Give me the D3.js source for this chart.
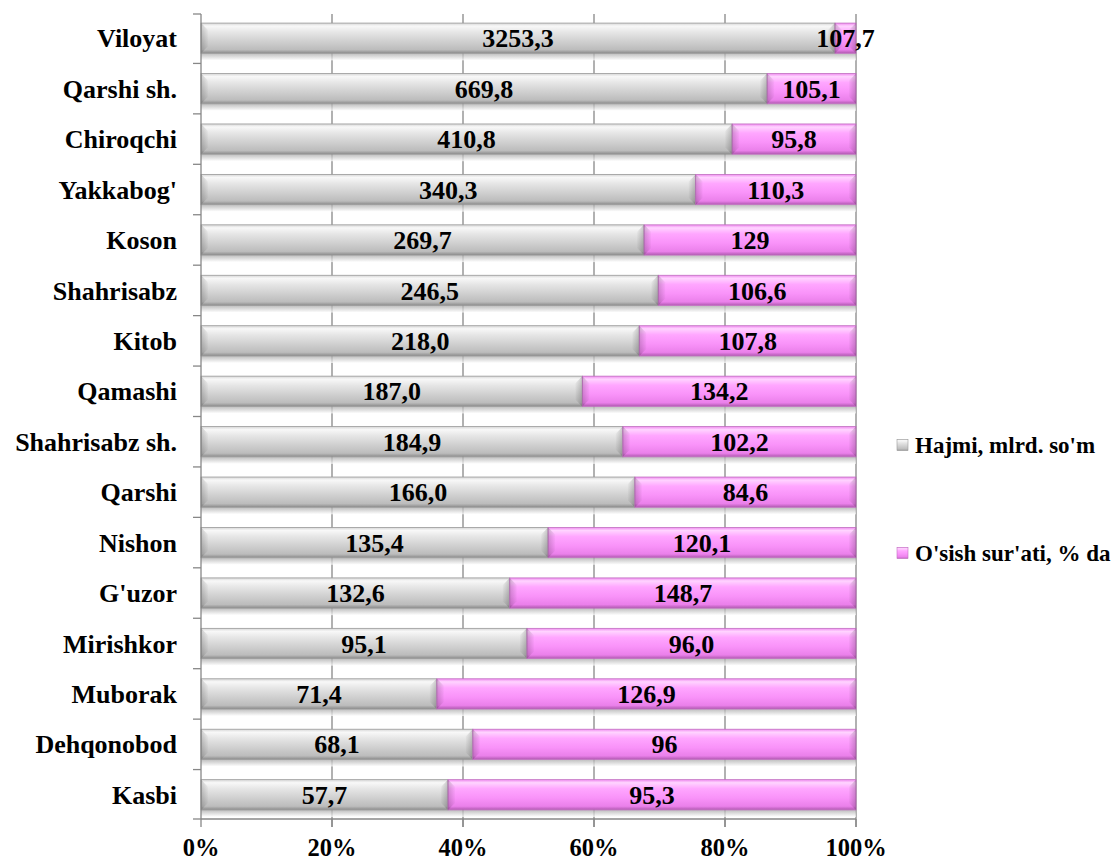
<!DOCTYPE html>
<html>
<head>
<meta charset="utf-8">
<script src="https://cdn.jsdelivr.net/npm/d3@7"></script>
<style>
  body { margin: 0; background: #fff; }
  svg text { font-family: "Liberation Serif", "Times New Roman", serif; font-weight: bold; }
</style>
</head>
<body>
<div id="chart"></div>
<script>
// categories top to bottom
var regions = ["Viloyat", "Qarshi sh.", "Chiroqchi", "Yakkabog'", "Koson", "Shahrisabz",
  "Kitob", "Qamashi", "Shahrisabz sh.", "Qarshi", "Nishon", "G'uzor", "Mirishkor",
  "Muborak", "Dehqonobod", "Kasbi"];
var hajmi = [3253.3, 669.8, 410.8, 340.3, 269.7, 246.5, 218.0, 187.0, 184.9, 166.0,
  135.4, 132.6, 95.1, 71.4, 68.1, 57.7];
var osish = [107.7, 105.1, 95.8, 110.3, 129, 106.6, 107.8, 134.2, 102.2, 84.6,
  120.1, 148.7, 96.0, 126.9, 96, 95.3];
// labels as written on the chart
var hajmiLabels = ["3253,3", "669,8", "410,8", "340,3", "269,7", "246,5", "218,0", "187,0",
  "184,9", "166,0", "135,4", "132,6", "95,1", "71,4", "68,1", "57,7"];
var osishLabels = ["107,7", "105,1", "95,8", "110,3", "129", "106,6", "107,8", "134,2",
  "102,2", "84,6", "120,1", "148,7", "96,0", "126,9", "96", "95,3"];
var seriesNames = ["Hajmi, mlrd. so'm", "O'sish sur'ati, % da"];
var xTicks = [0, 0.2, 0.4, 0.6, 0.8, 1];

var W = 1119, H = 860;
var margin = {left: 201, right: 263, top: 14, bottom: 41};

var svg = d3.select("#chart").append("svg")
  .attr("width", W).attr("height", H);

var defs = svg.append("defs");
function grad(id, stops, horiz) {
  var g = defs.append("linearGradient").attr("id", id)
    .attr("x1", 0).attr("y1", 0).attr("x2", horiz ? 1 : 0).attr("y2", horiz ? 0 : 1);
  stops.forEach(function(s) {
    g.append("stop").attr("offset", s[0]).attr("stop-color", s[1])
      .attr("stop-opacity", s[2] === undefined ? 1 : s[2]);
  });
}
grad("gGray", [[0, "#d6d6d6"], [0.1, "#f8f8f8"], [0.3, "#e6e6e6"], [0.6, "#d0d0d0"], [0.88, "#bcbcbc"], [1, "#8a8a8a"]]);
grad("gPink", [[0, "#f08af0"], [0.1, "#ffd4ff"], [0.3, "#ffa6ff"], [0.6, "#f993f9"], [0.88, "#ea80ea"], [1, "#b058b0"]]);
grad("gShadow", [[0, "#a8a8a8"], [1, "#ffffff"]]);
grad("gBevL", [[0, "#000", 0.18], [1, "#000", 0.02]], true);
grad("gBevR", [[0, "#000", 0.02], [1, "#000", 0.2]], true);

var x = d3.scaleLinear().domain([0, 1]).range([margin.left, W - margin.right]);
var y = d3.scaleBand().domain(regions).range([margin.top, H - margin.bottom])
  .paddingInner(0.4).paddingOuter(0.18);

// grid lines
svg.append("g").selectAll("line").data(xTicks.slice(1)).enter().append("line")
  .attr("x1", function(d) { return x(d); }).attr("x2", function(d) { return x(d); })
  .attr("y1", margin.top).attr("y2", H - margin.bottom + 8)
  .style("stroke", "#878787").style("stroke-width", 1.3);

// stacked shares
var rows = regions.map(function(r, i) {
  var t = hajmi[i] + osish[i];
  return {name: r, a: hajmi[i] / t, b: osish[i] / t, la: hajmiLabels[i], lb: osishLabels[i]};
});

var bars = svg.append("g").selectAll("g").data(rows).enter().append("g");

// soft shadow below bar
bars.append("rect")
  .attr("x", x(0)).attr("width", x(1) - x(0))
  .attr("y", function(d) { return y(d.name) + y.bandwidth(); })
  .attr("height", 7)
  .style("fill", "url(#gShadow)").style("opacity", 0.75);

function segment(sel, x0f, x1f, fill, stroke) {
  sel.append("rect")
    .attr("x", function(d) { return x(x0f(d)); })
    .attr("y", function(d) { return y(d.name); })
    .attr("width", function(d) { return x(x1f(d)) - x(x0f(d)); })
    .attr("height", y.bandwidth())
    .style("fill", fill)
    .style("stroke", stroke).style("stroke-width", 0.8);
  var b = 7;
  // bevel at the left and right ends
  sel.append("path")
    .attr("d", function(d) {
      var a = x(x0f(d)), t = y(d.name), h = y.bandwidth();
      var w = Math.min(b, (x(x1f(d)) - a) / 2);
      return "M" + a + "," + t + "L" + (a + w) + "," + (t + w) + "L" + (a + w) + "," + (t + h - w) + "L" + a + "," + (t + h) + "Z";
    })
    .style("fill", "url(#gBevL)");
  sel.append("path")
    .attr("d", function(d) {
      var e = x(x1f(d)), t = y(d.name), h = y.bandwidth();
      var w = Math.min(b, (e - x(x0f(d))) / 2);
      return "M" + e + "," + t + "L" + (e - w) + "," + (t + w) + "L" + (e - w) + "," + (t + h - w) + "L" + e + "," + (t + h) + "Z";
    })
    .style("fill", "url(#gBevR)");
}
segment(bars, function() { return 0; }, function(d) { return d.a; }, "url(#gGray)", "#9a9a9a");
segment(bars, function(d) { return d.a; }, function() { return 1; }, "url(#gPink)", "#c070c0");

bars.append("text")
  .attr("x", function(d) { return (x(0) + x(d.a)) / 2; })
  .attr("y", function(d) { return y(d.name) + y.bandwidth() / 2; })
  .attr("dy", "0.35em").attr("text-anchor", "middle")
  .style("font-size", "26px").style("fill", "#000")
  .text(function(d) { return d.la; });

bars.append("text")
  .attr("x", function(d) { return (x(d.a) + x(1)) / 2; })
  .attr("y", function(d) { return y(d.name) + y.bandwidth() / 2; })
  .attr("dy", "0.35em").attr("text-anchor", "middle")
  .style("font-size", "26px").style("fill", "#000")
  .text(function(d) { return d.lb; });

// y axis
var yAxis = svg.append("g").attr("transform", "translate(" + x(0) + ",0)");
yAxis.append("line").attr("x1", 0).attr("x2", 0)
  .attr("y1", margin.top).attr("y2", H - margin.bottom)
  .style("stroke", "#878787").style("stroke-width", 1.3);
var yTickPos = regions.map(function(r) { return y(r) - y.step() * y.paddingInner() / 2; });
yTickPos[0] = margin.top;
yTickPos.push(H - margin.bottom);
yAxis.selectAll(".yt").data(yTickPos).enter().append("line")
  .attr("x1", -8).attr("x2", 0)
  .attr("y1", function(d) { return d; }).attr("y2", function(d) { return d; })
  .style("stroke", "#878787").style("stroke-width", 1.3);
yAxis.selectAll(".yl").data(regions).enter().append("text")
  .attr("x", -24)
  .attr("y", function(d) { return y(d) + y.bandwidth() / 2; })
  .attr("dy", "0.35em").attr("text-anchor", "end")
  .style("font-size", "26px")
  .text(function(d) { return d; });

// x axis
var xAxis = svg.append("g").attr("transform", "translate(0," + (H - margin.bottom) + ")");
xAxis.append("line").attr("x1", x(0)).attr("x2", x(1))
  .style("stroke", "#878787").style("stroke-width", 1.3);
xAxis.selectAll(".xt").data(xTicks).enter().append("line")
  .attr("x1", function(d) { return x(d); }).attr("x2", function(d) { return x(d); })
  .attr("y1", 0).attr("y2", 8)
  .style("stroke", "#878787").style("stroke-width", 1.3);
xAxis.selectAll(".xl").data(xTicks).enter().append("text")
  .attr("x", function(d) { return x(d); })
  .attr("y", 37).attr("text-anchor", "middle")
  .style("font-size", "24.5px")
  .text(d3.format(".0%"));

// legend
var legend = svg.append("g").selectAll("g").data(seriesNames).enter().append("g")
  .attr("transform", function(d, i) { return "translate(897," + (445 + i * 108) + ")"; });
legend.append("rect").attr("x", 0).attr("y", -5.5).attr("width", 11).attr("height", 11)
  .style("fill", function(d, i) { return i ? "url(#gPink)" : "url(#gGray)"; })
  .style("stroke", function(d, i) { return i ? "#c070c0" : "#9a9a9a"; }).style("stroke-width", 0.6);
legend.append("text").attr("x", 18).attr("dy", "0.35em")
  .style("font-size", "23px")
  .text(function(d) { return d; });
</script>
</body>
</html>
